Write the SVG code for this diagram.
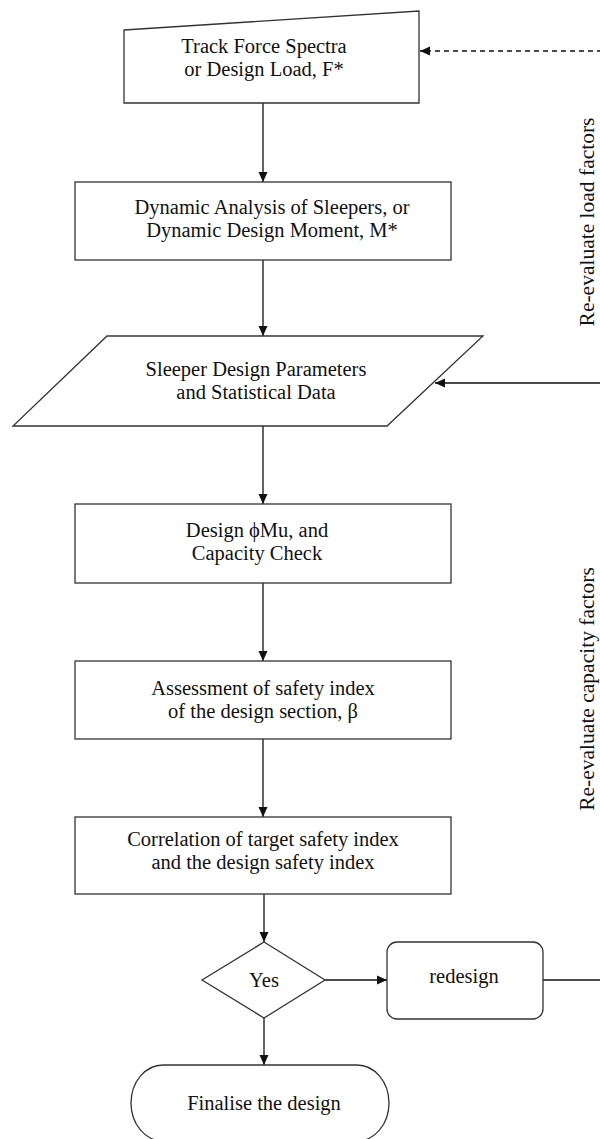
<svg xmlns="http://www.w3.org/2000/svg" width="600" height="1139" viewBox="0 0 600 1139">
  <style>
    .shape { fill: #ffffff; stroke: #333333; stroke-width: 1.3; }
    .conn { fill: none; stroke: #111111; stroke-width: 1.3; }
    .dash { stroke-dasharray: 5 4; }
    .label { font-family: "Liberation Serif", "Times New Roman", serif; font-size: 20.5px; fill: #111111; text-anchor: middle; }
    .side { font-family: "Liberation Serif", "Times New Roman", serif; font-size: 21.5px; fill: #111111; text-anchor: middle; }
  </style>
  <defs>
    <marker id="arrow" viewBox="0 0 10 10" refX="10" refY="5" markerWidth="10" markerHeight="10" markerUnits="userSpaceOnUse" orient="auto">
      <path d="M0,0.5 L10,5 L0,9.5 Z" fill="#111111"/>
    </marker>
  </defs>
  <rect width="600" height="1139" fill="#ffffff"/>

  <g id="connectors">
    <line class="conn" x1="263" y1="103" x2="263" y2="182" marker-end="url(#arrow)"/>
    <line class="conn" x1="263" y1="260" x2="263" y2="336" marker-end="url(#arrow)"/>
    <line class="conn" x1="263" y1="426" x2="263" y2="504" marker-end="url(#arrow)"/>
    <line class="conn" x1="263" y1="583" x2="263" y2="661" marker-end="url(#arrow)"/>
    <line class="conn" x1="263" y1="739" x2="263" y2="817" marker-end="url(#arrow)"/>
    <line class="conn" x1="264" y1="894" x2="264" y2="942" marker-end="url(#arrow)"/>
    <line class="conn" x1="325" y1="980" x2="387" y2="980" marker-end="url(#arrow)"/>
    <line class="conn" x1="264" y1="1018" x2="264" y2="1065" marker-end="url(#arrow)"/>
    <line class="conn" x1="543" y1="980" x2="602" y2="980"/>
    <line class="conn" x1="602" y1="383" x2="435" y2="383" marker-end="url(#arrow)"/>
    <line class="conn dash" x1="602" y1="51" x2="420" y2="51" marker-end="url(#arrow)"/>
  </g>

  <g id="node-track-force">
    <polygon class="shape" points="124,30 419,11 419,103 124,103"/>
    <text class="label" x="264" y="53">Track Force Spectra</text>
    <text class="label" x="264" y="76">or Design Load, F*</text>
  </g>

  <g id="node-dynamic-analysis">
    <rect class="shape" x="75" y="182" width="376" height="78"/>
    <text class="label" x="272" y="214">Dynamic Analysis of Sleepers, or</text>
    <text class="label" x="272" y="237">Dynamic Design Moment, M*</text>
  </g>

  <g id="node-sleeper-params">
    <polygon class="shape" points="107,336 483,336 387,426 13,426"/>
    <text class="label" x="256" y="376">Sleeper Design Parameters</text>
    <text class="label" x="256" y="399">and Statistical Data</text>
  </g>

  <g id="node-design-capacity">
    <rect class="shape" x="75" y="504" width="376" height="79"/>
    <text class="label" x="257" y="537">Design ϕMu, and</text>
    <text class="label" x="257" y="560">Capacity Check</text>
  </g>

  <g id="node-assessment">
    <rect class="shape" x="75" y="661" width="376" height="78"/>
    <text class="label" x="263" y="695">Assessment of safety index</text>
    <text class="label" x="263" y="718">of the design section, β</text>
  </g>

  <g id="node-correlation">
    <rect class="shape" x="75" y="817" width="376" height="77"/>
    <text class="label" x="263" y="846">Correlation of target safety index</text>
    <text class="label" x="263" y="869">and the design safety index</text>
  </g>

  <g id="node-decision">
    <polygon class="shape" points="264,942 325,980 264,1018 202,980"/>
    <text class="label" x="264" y="987">Yes</text>
  </g>

  <g id="node-redesign">
    <rect class="shape" x="387" y="942" width="156" height="77" rx="10" ry="10"/>
    <text class="label" x="464" y="983">redesign</text>
  </g>

  <g id="node-finalise">
    <path class="shape" d="M163,1065 H357 A32,38 0 0 1 357,1141 H163 A32,38 0 0 1 163,1065 Z"/>
    <text class="label" x="264" y="1110">Finalise the design</text>
  </g>

  <g id="side-labels">
    <text class="side" transform="translate(594,222) rotate(-90)">Re-evaluate load factors</text>
    <text class="side" transform="translate(594,689) rotate(-90)">Re-evaluate capacity factors</text>
  </g>
</svg>
